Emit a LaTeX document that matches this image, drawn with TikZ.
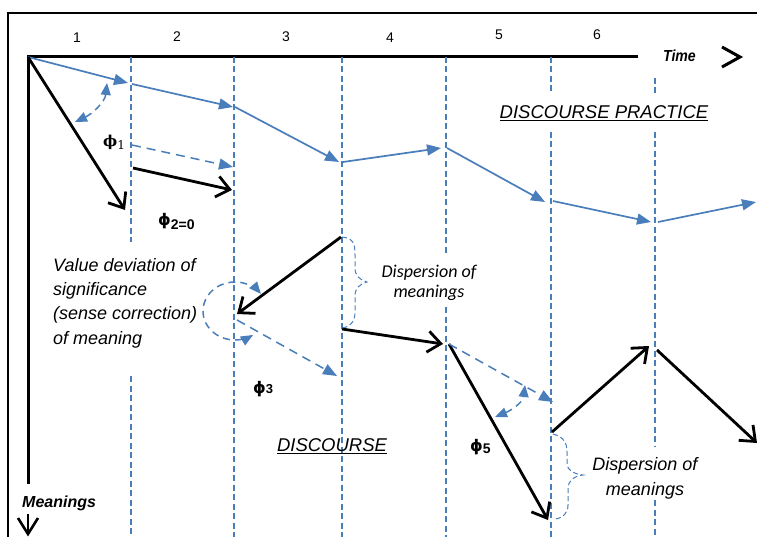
\documentclass[tikz,border=0pt]{standalone}
\usepackage{fontspec}
\usepackage{graphicx}
\setmainfont{Liberation Sans}
\newfontfamily\calfont{Carlito}
\newfontfamily\phiserif{DejaVu Serif}
\newfontfamily\phisansfont{DejaVu Sans}
\usetikzlibrary{arrows.meta}
\definecolor{mblue}{RGB}{74,126,187}
\begin{document}
\begin{tikzpicture}[x=1pt,y=-1pt,
  frameline/.style={line width=2.5pt},
  axisline/.style={line width=3pt},
  vdash/.style={mblue, line width=1.3pt, dash pattern=on 6pt off 3.5pt},
  bluearrow/.style={mblue, line width=1.7pt, -{Triangle[length=14pt,width=11pt]}},
  bluedasharrow/.style={mblue, line width=1.5pt, dash pattern=on 9pt off 6pt, -{Triangle[length=14pt,width=11pt]}},
  blackarrow/.style={line width=2.8pt, -{Straight Barb[length=13pt,width=21pt]}},
  anglearrow/.style={mblue, line width=1.5pt, dash pattern=on 7pt off 5pt, {Triangle[length=12pt,width=10pt]}-{Triangle[length=12pt,width=10pt]}},
  bracepath/.style={mblue, line width=1pt, dash pattern=on 5pt off 3pt},
  chevron/.style={line width=3pt},
  num/.style={font=\fontsize{14}{16}\selectfont, inner sep=0pt},
  axislabel/.style={font=\fontsize{16}{19}\selectfont\bfseries\itshape, inner sep=0pt},
  bigital/.style={font=\fontsize{18.5}{22}\selectfont\itshape, inner sep=0pt},
  note/.style={font=\fontsize{18}{24.4}\selectfont\itshape, inner sep=0pt, align=left},
  phisans/.style={font=\fontsize{16}{18}\selectfont\bfseries, inner sep=0pt}
]
\useasboundingbox (0,0) rectangle (757,537);

% frame
\coordinate (fbl) at (8,540);
\coordinate (ftl) at (8,13);
\coordinate (ftr) at (760,13);
\draw[frameline] (fbl) -- (ftl) -- (ftr);

% axes
\coordinate (O) at (28,57);
\coordinate (tend) at (638,57);
\coordinate (mend) at (28,484);
\draw[axisline] (tend) -- (O) -- (mend);

% time chevron
\coordinate (ta) at (722,47);
\coordinate (tb) at (740,57);
\coordinate (tc) at (722,67);
\draw[chevron] (ta) -- (tb) -- (tc);
% meanings arrow
\coordinate (ma) at (18,518);
\coordinate (mb) at (28,534);
\coordinate (mc) at (38,518);
\coordinate (ms) at (28,514);
\draw[chevron, line width=2.6pt] (ma) -- (mb) -- (mc);
\draw[chevron, line width=2.6pt] (ms) -- (mb);

% labels
\node[num] (n1) at (77,38) {1};
\node[num] (n2) at (177,37) {2};
\node[num] (n3) at (286,37) {3};
\node[num] (n4) at (390,38) {4};
\node[num] (n5) at (499,35) {5};
\node[num] (n6) at (597,35) {6};
\node[axislabel, anchor=west] (time) at (663,56) {\scalebox{0.88}[1]{Time}};
\node[axislabel, anchor=west] (meanings) at (22,503) {Meanings};

% vertical dashed lines
\coordinate (v1a) at (131,57);  \coordinate (v1b) at (131,242);
\coordinate (v1c) at (131,376); \coordinate (v1d) at (131,537);
\coordinate (v2a) at (234,57);  \coordinate (v2b) at (234,537);
\coordinate (v3a) at (342,57);  \coordinate (v3b) at (342,537);
\coordinate (v4a) at (446,57);  \coordinate (v4b) at (446,253);
\coordinate (v4c) at (446,307); \coordinate (v4d) at (446,537);
\coordinate (v5a) at (551,57);  \coordinate (v5b) at (551,93);
\coordinate (v5c) at (551,132); \coordinate (v5d) at (551,537);
\coordinate (v6a) at (655,78);  \coordinate (v6b) at (655,93);
\coordinate (v6c) at (655,132); \coordinate (v6d) at (655,447);
\coordinate (v6e) at (655,500); \coordinate (v6f) at (655,537);
\draw[vdash] (v1a) -- (v1b);
\draw[vdash] (v1c) -- (v1d);
\draw[vdash] (v2a) -- (v2b);
\draw[vdash] (v3a) -- (v3b);
\draw[vdash] (v4a) -- (v4b);
\draw[vdash] (v4c) -- (v4d);
\draw[vdash] (v5a) -- (v5b);
\draw[vdash] (v5c) -- (v5d);
\draw[vdash] (v6a) -- (v6b);
\draw[vdash] (v6c) -- (v6d);
\draw[vdash] (v6e) -- (v6f);

% discourse practice path (blue)
\coordinate (b1t) at (128,83);  \coordinate (b1s) at (132,84);
\coordinate (b2t) at (233,107); \coordinate (b2s) at (235,107);
\coordinate (b3t) at (339,162); \coordinate (b3s) at (343,162);
\coordinate (b4t) at (441,148); \coordinate (b4s) at (447,148);
\coordinate (b5t) at (545,202); \coordinate (b5s) at (553,201);
\coordinate (b6t) at (651,222); \coordinate (b6s) at (658,222);
\coordinate (b7t) at (756,202);
\draw[bluearrow] (O) -- (b1t);
\draw[bluearrow] (b1s) -- (b2t);
\draw[bluearrow] (b2s) -- (b3t);
\draw[bluearrow] (b3s) -- (b4t);
\draw[bluearrow] (b4s) -- (b5t);
\draw[bluearrow] (b5s) -- (b6t);
\draw[bluearrow] (b6s) -- (b7t);

% black discourse arrows
\coordinate (k1t) at (125,210);
\coordinate (k2s) at (133,168); \coordinate (k2t) at (232,190);
\coordinate (k3s) at (341,237); \coordinate (k3t) at (237,314);
\coordinate (k4s) at (342,329); \coordinate (k4t) at (443,344);
\coordinate (k5s) at (449,344); \coordinate (k5t) at (548,520);
\coordinate (k6s) at (552,432); \coordinate (k6t) at (649,346);
\coordinate (k7s) at (657,350); \coordinate (k7t) at (757,443);
\draw[blackarrow] (O) -- (k1t);
\draw[blackarrow] (k2s) -- (k2t);
\draw[blackarrow] (k3s) -- (k3t);
\draw[blackarrow] (k4s) -- (k4t);
\draw[blackarrow] (k5s) -- (k5t);
\draw[blackarrow] (k6s) -- (k6t);
\draw[blackarrow] (k7s) -- (k7t);

% blue dashed arrows
\coordinate (d1s) at (132,145); \coordinate (d1t) at (233,167);
\coordinate (d2s) at (237,320); \coordinate (d2t) at (337,376);
\coordinate (d3t) at (553,402);
\draw[bluedasharrow] (d1s) -- (d1t);
\draw[bluedasharrow] (d2s) -- (d2t);
\draw[bluedasharrow] (k5s) -- (d3t);

% angle arcs
\coordinate (a1s) at (75,122);  \coordinate (a1t) at (107,83);
\draw[anglearrow] (a1s) .. controls (92,114) and (105,102) .. (a1t);
\coordinate (a5s) at (495,417); \coordinate (a5t) at (525,385);
\draw[anglearrow] (a5s) .. controls (512,410) and (523,402) .. (a5t);
% phi3 loop
\draw[anglearrow] plot[domain=36:304, samples=60, smooth] ({235+32*cos(\x)}, {311-29*sin(\x)});

% braces
\coordinate (br1a) at (342,237); \coordinate (br1t) at (367,282); \coordinate (br1b) at (342,328);
\draw[bracepath] (br1a) .. controls (354,238) and (355,245) .. (355,255) -- (355,268)
  .. controls (355,276) and (360,280) .. (br1t)
  .. controls (360,284) and (355,288) .. (355,296) -- (355,312)
  .. controls (355,322) and (350,327) .. (br1b);
\coordinate (br2a) at (553,434); \coordinate (br2t) at (583,475); \coordinate (br2b) at (555,519);
\draw[bracepath] (br2a) .. controls (564,437) and (567,443) .. (567,452) -- (567,464)
  .. controls (567,470) and (574,474) .. (br2t)
  .. controls (574,476) and (568,481) .. (568,488) -- (568,505)
  .. controls (568,513) and (563,518) .. (br2b);

% phi labels
\node[inner sep=0pt, anchor=west] (phi1) at (103,142) {\phiserif\fontsize{15}{16}\selectfont\bfseries ϕ\raisebox{-3pt}{\fontsize{12}{12}\selectfont\mdseries 1}};
\node[phisans, anchor=west] (phi2) at (158,221) {{\phisansfont ϕ}\raisebox{-4pt}{\fontsize{14}{15}\selectfont 2=0}};
\node[phisans, anchor=west] (phi3) at (253,389) {{\phisansfont ϕ}\fontsize{13}{14}\selectfont 3};
\node[phisans, anchor=west] (phi5) at (470,447) {{\phisansfont ϕ}\raisebox{-2.5pt}{\fontsize{14}{15}\selectfont 5}};

% texts
\node[bigital] (dp) at (604,113) {\underline{DISCOURSE PRACTICE}};
\node[bigital] (disc) at (332,446) {\underline{DISCOURSE}};
\node[note, anchor=west] (vd) at (53,303) {Value deviation of\\significance\\(sense correction)\\of meaning};
\node[font=\fontsize{18}{20.5}\selectfont\calfont\itshape, inner sep=0pt, align=center] (disp1) at (429,283) {Dispersion of\\meanings};
\node[font=\fontsize{18}{25}\selectfont\itshape, inner sep=0pt, align=center] (disp2) at (645,478) {Dispersion of\\meanings};
\end{tikzpicture}
\end{document}
